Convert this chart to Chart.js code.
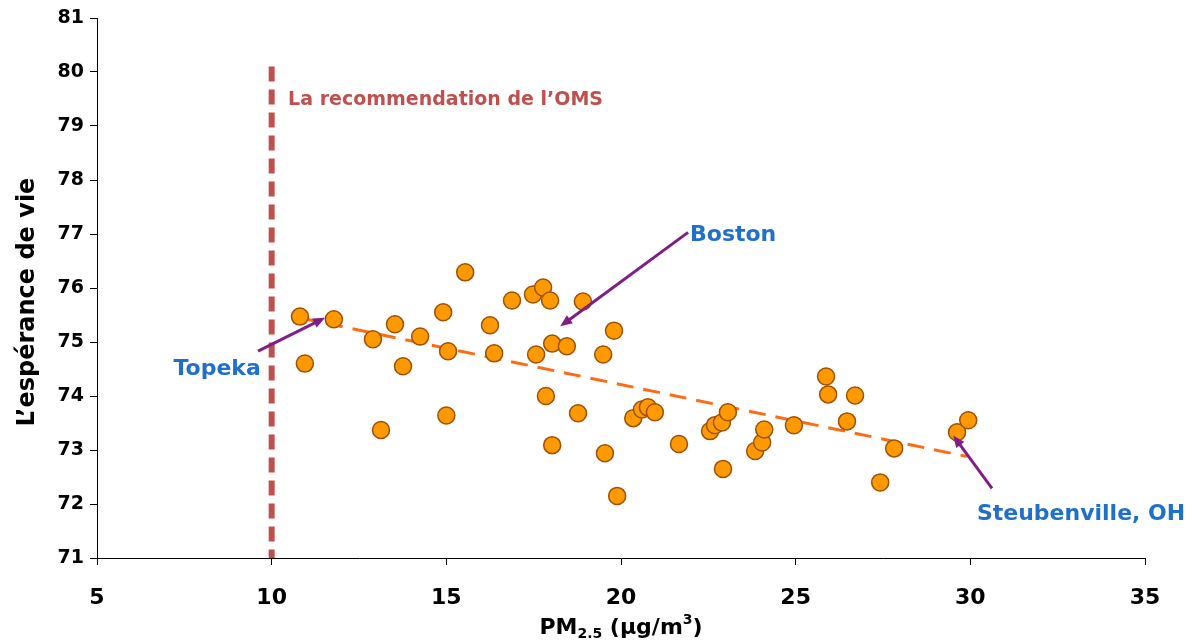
<!DOCTYPE html>
<html>
<head>
<meta charset="utf-8">
<script src="https://cdn.jsdelivr.net/npm/chart.js@4"></script>
<style>
  html, body { margin: 0; padding: 0; background: #fff; }
  #wrap { width: 1193px; height: 643px; }
</style>
</head>
<body>
<div id="wrap"><canvas id="pmChart"></canvas></div>
<script>
// PM2.5 concentration (x) and life expectancy (y) per city
const pmValues = [
  10.81, 10.95, 11.78, 12.90, 13.13, 13.53, 13.76, 14.25, 14.91, 15.05,
  15.0, 15.54, 16.25, 16.37, 16.88, 17.48, 17.77, 17.97, 17.57, 18.03,
  17.85, 18.03, 18.45, 18.77, 18.91, 19.49, 19.80, 19.54, 19.89, 20.35,
  20.60, 20.77, 20.97, 21.66, 22.55, 22.69, 22.89, 23.06, 22.92, 23.84,
  24.04, 24.10, 24.95, 25.87, 25.93, 26.70, 26.47, 27.42, 27.82, 29.62,
  29.94,
];
const lifeValues = [
  75.47, 74.60, 75.42, 75.05, 73.37, 75.33, 74.55, 75.10, 75.55, 74.83,
  73.64, 76.29, 75.31, 74.79, 75.77, 75.88, 76.01, 75.77, 74.77, 74.97,
  74.00, 73.09, 74.92, 73.68, 75.75, 74.77, 75.21, 72.94, 72.15, 73.59,
  73.75, 73.79, 73.70, 73.11, 73.35, 73.46, 73.51, 73.70, 72.65, 72.98,
  73.14, 73.38, 73.46, 74.36, 74.03, 74.01, 73.53, 72.40, 73.03, 73.33,
  73.55,
];

// fitted trend, endpoints
const trendX = [10.8, 29.9];
const trendY = [75.45, 72.88];

// WHO guideline
const whoLimit = 10;
const whoLineY = [80.1, 71];
const whoLabel = "La recommendation de l\u2019OMS";
const whoLabelPos = [10.47, 79.48];

// axis ranges and titles
const xMin = 5, xMax = 35, xStep = 5;
const yMin = 71, yMax = 81, yStep = 1;
const yTitle = "L\u2019esp\u00e9rance de vie";
const yTitleCenter = 75.74;

// city callouts: label, label position, arrow start, arrow end
const cityNames = ["Topeka", "Boston", "Steubenville, OH"];
const cityLabelX = [8.44, 23.21, 33.17];
const cityLabelY = [74.49, 76.97, 71.81];
const arrowFromX = [9.61, 21.92, 30.62];
const arrowFromY = [74.83, 77.03, 72.29];
const arrowToX = [11.53, 18.26, 29.51];
const arrowToY = [75.45, 75.29, 73.27];

const FONT = "'DejaVu Sans', 'Liberation Sans', Arial, sans-serif";

const points = pmValues.map((x, i) => ({ x: x, y: lifeValues[i] }));
const trend = trendX.map((x, i) => ({ x: x, y: trendY[i] }));
const who = whoLineY.map((y) => ({ x: whoLimit, y: y }));

const annotations = {
  id: "annotations",
  afterDatasetsDraw(chart) {
    const c = chart.ctx;
    const xs = chart.scales.x;
    const ys = chart.scales.y;
    c.save();

    // WHO label
    c.fillStyle = "#C0504D";
    c.font = "bold 19px " + FONT;
    c.textAlign = "left";
    c.textBaseline = "middle";
    c.fillText(whoLabel, xs.getPixelForValue(whoLabelPos[0]), ys.getPixelForValue(whoLabelPos[1]));

    // arrows
    for (let i = 0; i < cityNames.length; i++) {
      const x0 = xs.getPixelForValue(arrowFromX[i]);
      const y0 = ys.getPixelForValue(arrowFromY[i]);
      const x1 = xs.getPixelForValue(arrowToX[i]);
      const y1 = ys.getPixelForValue(arrowToY[i]);
      const a = Math.atan2(y1 - y0, x1 - x0);
      const head = 13;
      c.strokeStyle = "#7F1F86";
      c.fillStyle = "#7F1F86";
      c.lineWidth = 3;
      c.beginPath();
      c.moveTo(x0, y0);
      c.lineTo(x1 - Math.cos(a) * head * 0.8, y1 - Math.sin(a) * head * 0.8);
      c.stroke();
      c.beginPath();
      c.moveTo(x1, y1);
      c.lineTo(x1 - head * Math.cos(a - 0.4), y1 - head * Math.sin(a - 0.4));
      c.lineTo(x1 - head * Math.cos(a + 0.4), y1 - head * Math.sin(a + 0.4));
      c.closePath();
      c.fill();

      c.fillStyle = "#1F6FCC";
      c.font = "bold 22px " + FONT;
      c.textAlign = "center";
      c.fillText(cityNames[i], xs.getPixelForValue(cityLabelX[i]), ys.getPixelForValue(cityLabelY[i]));
    }

    // y axis title
    c.save();
    c.translate(28, ys.getPixelForValue(yTitleCenter));
    c.rotate(-Math.PI / 2);
    c.fillStyle = "#000";
    c.font = "bold 24px " + FONT;
    c.textAlign = "center";
    c.textBaseline = "middle";
    c.fillText(yTitle, 0, 0);
    c.restore();

    // x axis title with sub/superscript
    const cx = (xs.left + xs.right) / 2;
    const base = 634;
    const bigFont = "bold 22px " + FONT;
    const smallFont = "bold 14px " + FONT;
    const parts = [
      ["PM", bigFont, 0],
      ["2.5", smallFont, 4],
      [" (\u00b5g/m", bigFont, 0],
      ["3", smallFont, -10],
      [")", bigFont, 0],
    ];
    let total = 0;
    parts.forEach((p) => { c.font = p[1]; total += c.measureText(p[0]).width; });
    let px = cx - total / 2;
    c.fillStyle = "#000";
    c.textAlign = "left";
    c.textBaseline = "alphabetic";
    parts.forEach((p) => {
      c.font = p[1];
      c.fillText(p[0], px, base + p[2]);
      px += c.measureText(p[0]).width;
    });

    c.restore();
  },
};

new Chart(document.getElementById("pmChart"), {
  type: "scatter",
  data: {
    datasets: [
      {
        label: "villes",
        data: points,
        backgroundColor: "#FF9900",
        borderColor: "#A05000",
        borderWidth: 1.5,
        pointRadius: 8.5,
        order: 0,
      },
      {
        label: "tendance",
        data: trend,
        showLine: true,
        borderColor: "#FF6A13",
        borderWidth: 3,
        borderDash: [17, 10],
        pointRadius: 0,
        order: 1,
      },
      {
        label: "OMS",
        data: who,
        showLine: true,
        borderColor: "#C0504D",
        borderWidth: 6,
        borderDash: [15, 8],
        borderCapStyle: "butt",
        pointRadius: 0,
        order: 2,
      },
    ],
  },
  options: {
    responsive: true,
    maintainAspectRatio: false,
    animation: false,
    layout: { padding: { top: 18, right: 48, left: 0, bottom: 0 } },
    plugins: {
      legend: { display: false },
      tooltip: { enabled: false },
    },
    scales: {
      x: {
        type: "linear",
        min: xMin,
        max: xMax,
        afterFit: (s) => { s.height = 85; },
        grid: {
          drawOnChartArea: false,
          color: "#000",
          tickLength: 7,
          tickColor: "#000",
        },
        border: { color: "#000", width: 1 },
        ticks: {
          stepSize: xStep,
          color: "#000",
          padding: 20,
          font: { family: FONT, size: 22, weight: "bold" },
        },
      },
      y: {
        min: yMin,
        max: yMax,
        afterFit: (s) => { s.width = 97; },
        grid: {
          drawOnChartArea: false,
          tickLength: 7,
          tickColor: "#000",
        },
        border: { color: "#000", width: 1 },
        ticks: {
          stepSize: yStep,
          color: "#000",
          padding: 6,
          font: { family: FONT, size: 19, weight: "bold" },
        },
      },
    },
  },
  plugins: [annotations],
});
</script>
</body>
</html>
